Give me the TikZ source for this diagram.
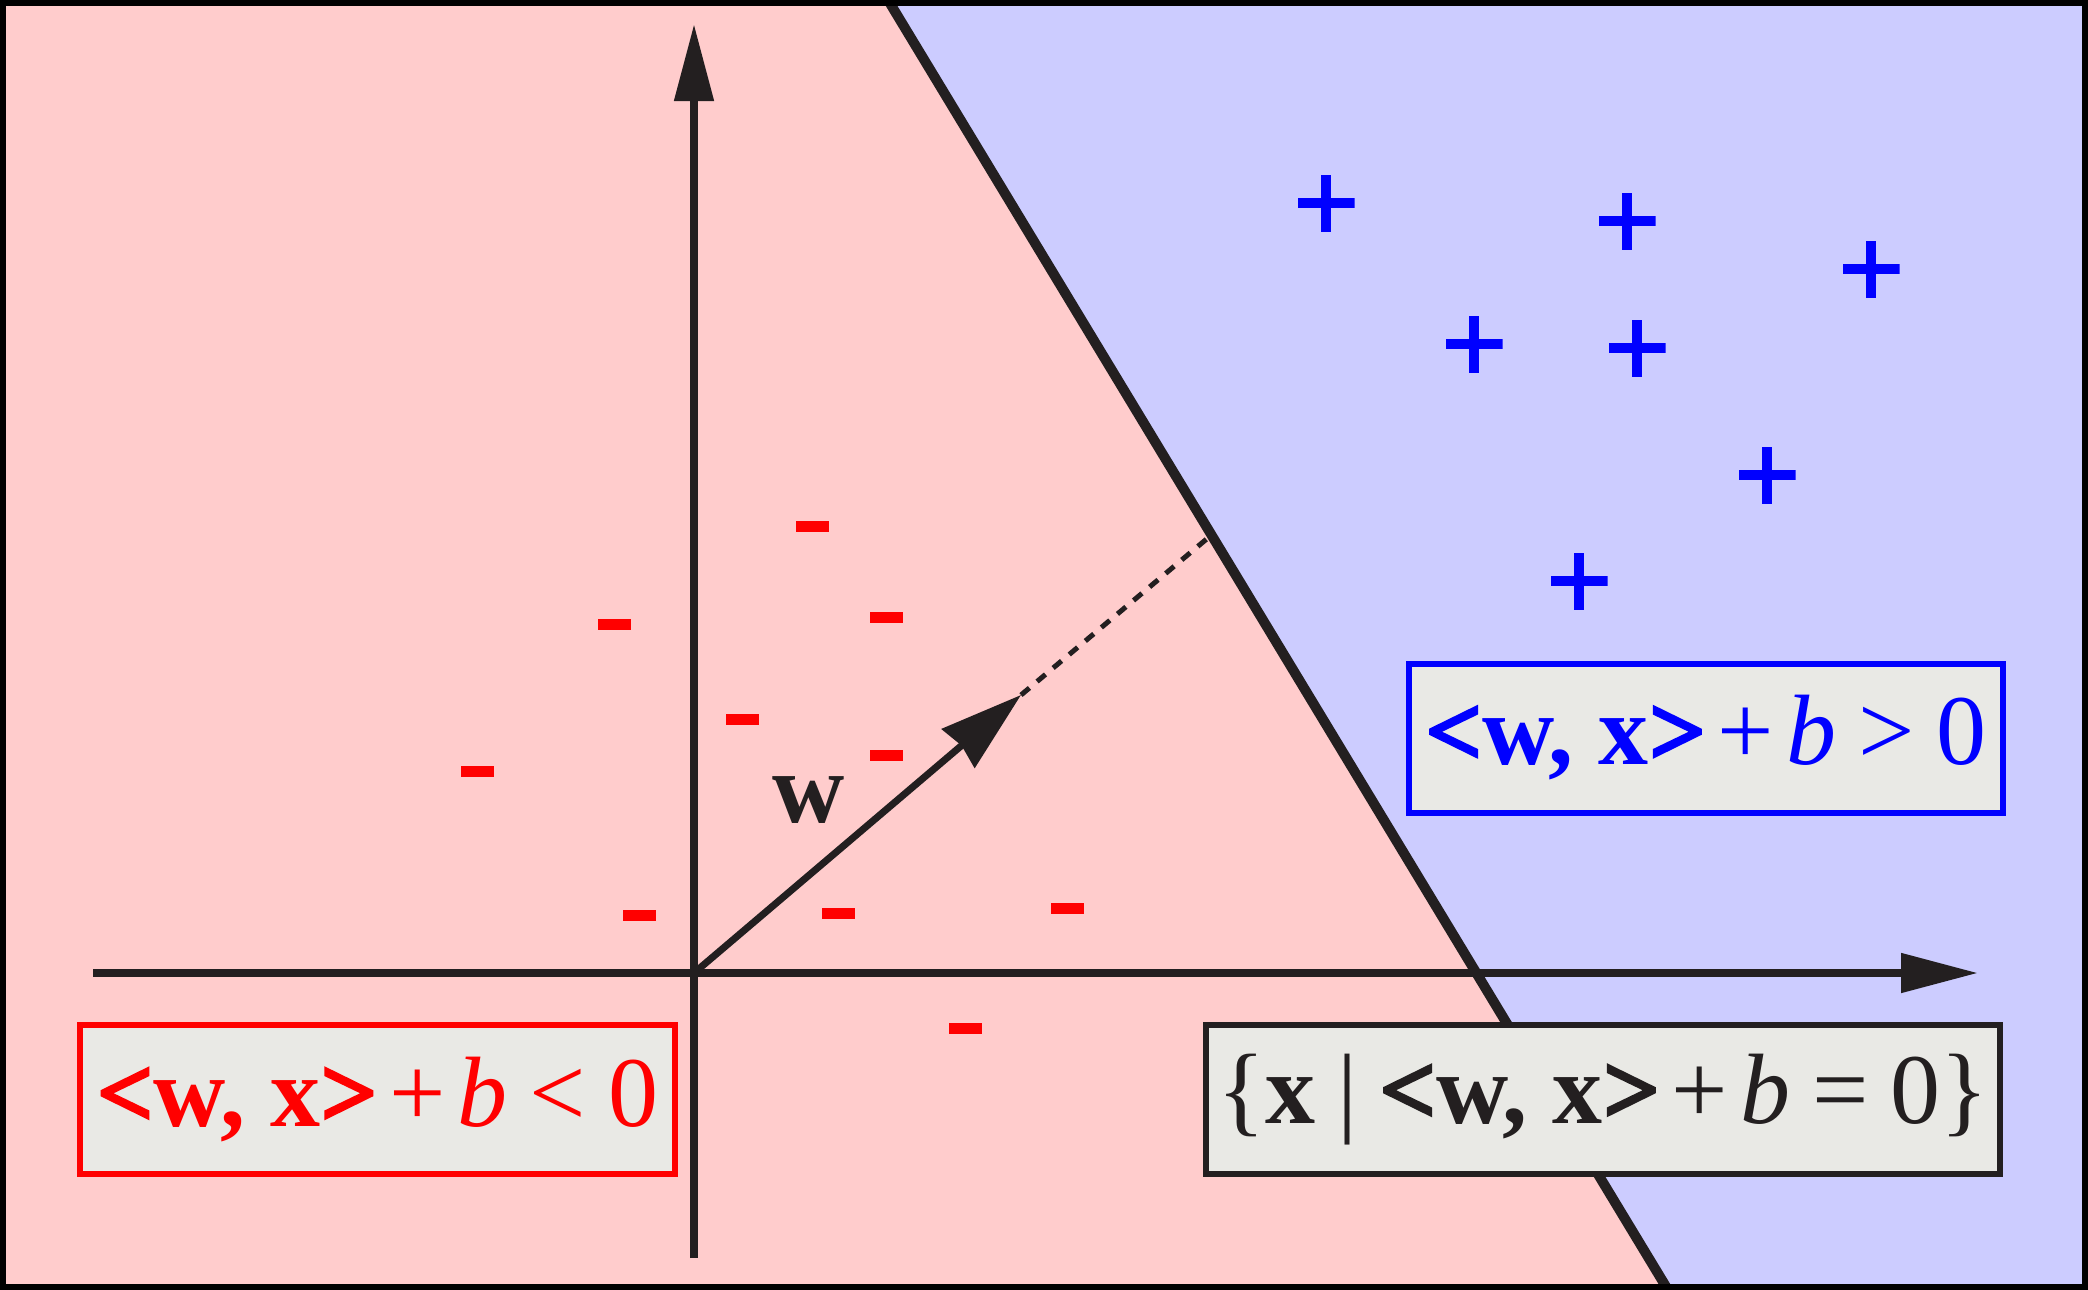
\documentclass[tikz,border=0pt]{standalone}
\usepackage{fontspec}
\setmainfont{Liberation Serif}
\newfontfamily\heavyfont[FakeBold=2.5]{Liberation Serif Bold}
\usetikzlibrary{arrows.meta}

\definecolor{negbg}{HTML}{FFCCCC}
\definecolor{posbg}{HTML}{CCCCFF}
\definecolor{boxbg}{HTML}{E9E9E5}
\definecolor{ink}{HTML}{231F20}

% spacing round binary operators and relations (text mode)
\newcommand{\bsp}{\hspace{0.12em}}
\newcommand{\rsp}{\hspace{0.22em}}
% inner product <w, x> with heavy angle brackets
\newcommand{\wxprod}{{\heavyfont<}\textbf{w, x}{\heavyfont>}}

\tikzset{
  negmark/.style={fill=red, minimum width=33pt, minimum height=11pt, inner sep=0pt, outer sep=0pt},
  posmark/.style={minimum size=57pt, inner sep=0pt, outer sep=0pt,
    path picture={
      \fill[blue] ([yshift=-5pt]path picture bounding box.west) rectangle ([yshift=5pt]path picture bounding box.east);
      \fill[blue] ([xshift=-5pt]path picture bounding box.south) rectangle ([xshift=5pt]path picture bounding box.north);
    }},
  labelbox/.style={line width=6pt, fill=boxbg, minimum height=149pt, inner sep=0pt,
    font=\fontsize{100}{112}\selectfont},
  axis/.style={draw=ink, line width=8pt, -{Triangle[length=77pt,width=38pt]}},
}

\begin{document}
\begin{tikzpicture}[x=1pt, y=-1pt]

  %% ════ half planes ════
  \fill[negbg] (0,0) rectangle (2088,1290);
  \fill[posbg] (888,0) -- (2088,0) -- (2088,1290) -- (1668,1290) -- cycle;

  %% ════ axes ════
  \coordinate (O) at (694,973);
  \coordinate (xstart) at (93,973);
  \coordinate (xend) at (1978,973);
  \coordinate (ystart) at (694,1258);
  \coordinate (yend) at (694,24);
  \draw[axis] (xstart) -- (xend);
  \draw[axis] (ystart) -- (yend);

  %% ════ separating line ════
  \coordinate (btop) at (888,0);
  \coordinate (bbot) at (1668,1290);
  \draw[ink, line width=10pt] (btop) -- (bbot);

  %% ════ normal vector w ════
  \coordinate (wtip) at (1021,695);
  \coordinate (wfoot) at (1209,537);
  \draw[ink, line width=7pt, -{Stealth[length=82pt,width=50pt,inset=4pt]}] (O) -- (wtip);
  \draw[ink, line width=5pt, dash pattern=on 11pt off 10pt] (wtip) -- (wfoot);
  \node[ink, font=\fontsize{100}{112}\selectfont] (wlabel) at (809,800) {\textbf{w}};

  %% ════ negative samples ════
  \node[negmark] (n1) at (812,526) {};
  \node[negmark] (n2) at (614,624) {};
  \node[negmark] (n3) at (886,617) {};
  \node[negmark] (n4) at (742,719) {};
  \node[negmark] (n5) at (886,755) {};
  \node[negmark] (n6) at (477,771) {};
  \node[negmark] (n7) at (639,915) {};
  \node[negmark] (n8) at (838,913) {};
  \node[negmark] (n9) at (1067,908) {};
  \node[negmark] (n10) at (965,1028) {};

  %% ════ positive samples ════
  \node[posmark] (p1) at (1326,203) {};
  \node[posmark] (p2) at (1627,221) {};
  \node[posmark] (p3) at (1871,269) {};
  \node[posmark] (p4) at (1474,344) {};
  \node[posmark] (p5) at (1637,348) {};
  \node[posmark] (p6) at (1767,475) {};
  \node[posmark] (p7) at (1579,581) {};

  %% ════ labels ════
  \node[labelbox, draw=blue, text=blue, minimum width=594pt] (posside) at (1706,738)
    {\wxprod\bsp+\bsp\textit{b}\rsp>\rsp0};
  \node[labelbox, draw=red, text=red, minimum width=595pt] (negside) at (377.5,1099.5)
    {\wxprod\bsp+\bsp\textit{b}\rsp<\rsp0};
  \node[labelbox, draw=ink, text=ink, minimum width=794pt] (plane) at (1603,1099.5)
    {\{\textbf{x}\rsp|\rsp\wxprod\bsp+\bsp\textit{b}\rsp=\rsp0\}};

  %% ════ frame ════
  \draw[black, line width=6pt] (3,3) rectangle (2085,1287);

  \pgfresetboundingbox
  \path[use as bounding box] (0,0) rectangle (2088,1290);
\end{tikzpicture}
\end{document}
